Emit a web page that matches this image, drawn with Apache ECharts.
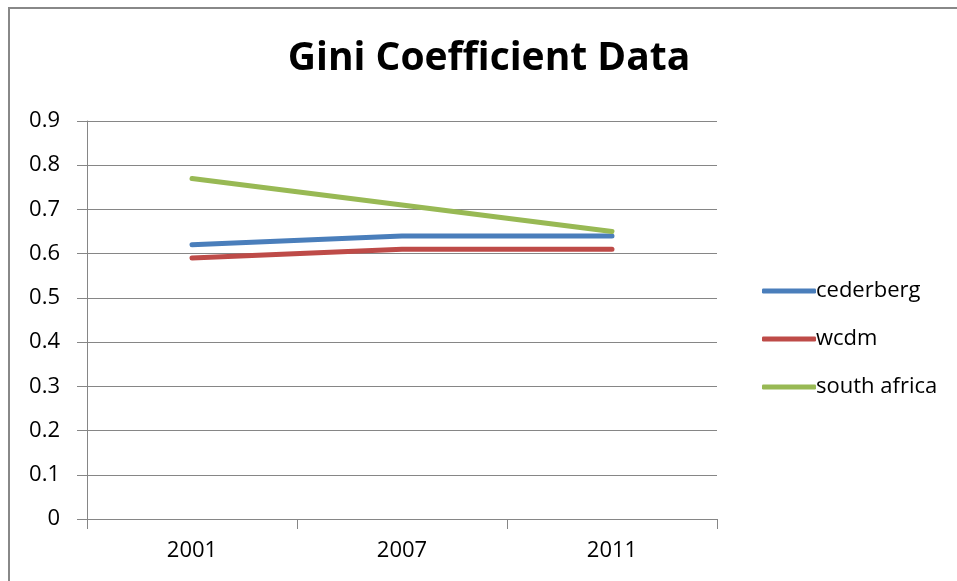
<!DOCTYPE html>
<html>
<head>
<meta charset="utf-8">
<style>
  html, body { margin: 0; padding: 0; background: #fff; }
  #chart { width: 957px; height: 581px; }
</style>
<script src="https://cdn.jsdelivr.net/npm/echarts@6/dist/echarts.min.js"></script>
</head>
<body>
<div id="chart"></div>
<script>
// Gini coefficient by census year
const years = ['2001', '2007', '2011'];
const cederberg = [0.62, 0.64, 0.64];
const wcdm = [0.59, 0.61, 0.61];
const southAfrica = [0.77, 0.71, 0.65];
const seriesNames = ['cederberg', 'wcdm', 'south africa'];
const seriesColors = ['#4A7EBB', '#BE4B48', '#98B954'];

const FONT = 'Open Sans';
const chart = echarts.init(document.getElementById('chart'));

function lineSeries(name, data, color) {
  return {
    name: name,
    type: 'line',
    data: data,
    symbol: 'none',
    lineStyle: { color: color, width: 5, cap: 'round', join: 'round' },
    itemStyle: { color: color },
    emphasis: { disabled: true },
    animation: false
  };
}

chart.setOption({
  animation: false,
  backgroundColor: '#fff',
  title: {
    text: 'Gini Coefficient Data',
    left: 484,
    textAlign: 'center',
    top: 34,
    textStyle: { fontFamily: FONT, fontWeight: 'bold', fontSize: 39, color: '#000' }
  },
  legend: {
    orient: 'vertical',
    left: 757,
    top: 275,
    itemWidth: 54,
    itemHeight: 5,
    itemGap: 26,
    icon: 'roundRect',
    textStyle: { fontFamily: FONT, fontSize: 22, color: '#000', padding: [0, 0, 0, -5] },
    data: seriesNames.map(function (n, i) { return { name: n, itemStyle: { color: seriesColors[i] } }; })
  },
  grid: { left: 87, right: 240, top: 121, bottom: 62, containLabel: false },
  xAxis: {
    type: 'category',
    data: years,
    boundaryGap: true,
    axisLine: { lineStyle: { color: '#868686', width: 1 } },
    axisTick: { show: true, length: 10, lineStyle: { color: '#868686' } },
    axisLabel: { margin: 21, fontFamily: FONT, fontSize: 22, color: '#000' },
    splitLine: { show: false }
  },
  yAxis: {
    type: 'value',
    min: 0,
    max: 0.9,
    interval: 0.1,
    axisLine: { show: true, lineStyle: { color: '#868686', width: 1 } },
    axisTick: { show: true, length: 10, lineStyle: { color: '#868686' } },
    axisLabel: {
      margin: 27,
      fontFamily: FONT,
      fontSize: 22,
      color: '#000',
      formatter: function (v) { return String(Math.round(v * 10) / 10); }
    },
    splitLine: { show: true, lineStyle: { color: '#868686', width: 1 } }
  },
  graphic: [{
    type: 'rect',
    shape: { x: 9, y: 8, width: 980, height: 600 },
    style: { fill: 'none', stroke: '#888', lineWidth: 2 },
    silent: true
  }],
  series: [
    lineSeries(seriesNames[0], cederberg, seriesColors[0]),
    lineSeries(seriesNames[1], wcdm, seriesColors[1]),
    lineSeries(seriesNames[2], southAfrica, seriesColors[2])
  ]
});
</script>
</body>
</html>
